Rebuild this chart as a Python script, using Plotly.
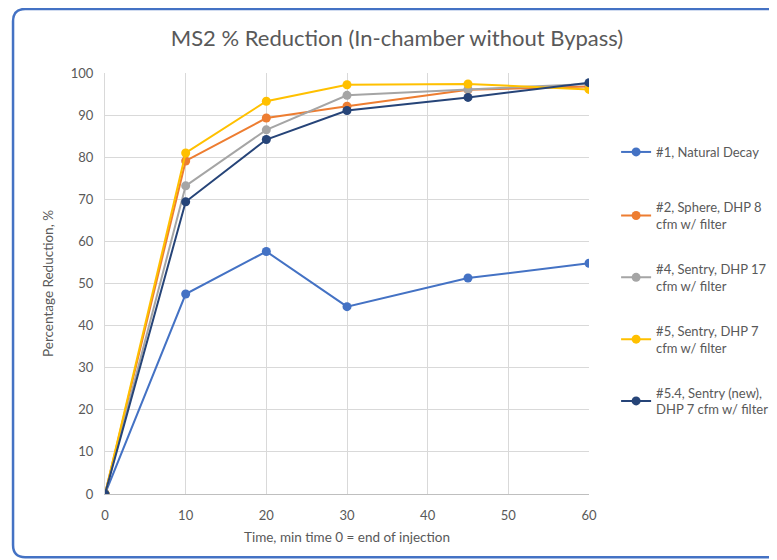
import plotly.graph_objects as go

# time points (min)
time_min = [0, 10, 20, 30, 45, 60]

natural_decay = [0, 47.5, 57.6, 44.5, 51.3, 54.8]
sphere_dhp8 = [0, 79.1, 89.3, 92.1, 96.0, 96.8]
sentry_dhp17 = [0, 73.2, 86.5, 94.7, 96.1, 97.4]
sentry_dhp7 = [0, 81.0, 93.3, 97.2, 97.4, 96.1]
sentry_new_dhp7 = [0, 69.4, 84.2, 91.1, 94.2, 97.7]

series_names = [
    "#1, Natural Decay",
    "#2, Sphere, DHP 8<br>cfm w/ filter",
    "#4, Sentry, DHP 17<br>cfm w/ filter",
    "#5, Sentry, DHP 7<br>cfm w/ filter",
    "#5.4, Sentry (new),<br>DHP 7 cfm w/ filter",
]
series_values = [natural_decay, sphere_dhp8, sentry_dhp17, sentry_dhp7, sentry_new_dhp7]
series_colors = ["#4472C4", "#ED7D31", "#A5A5A5", "#FFC000", "#264478"]

FONT = "Lato, 'Open Sans', sans-serif"
GREY_TXT = "#595959"

fig = go.Figure()
for i, (name, vals, col) in enumerate(zip(series_names, series_values, series_colors)):
    fig.add_trace(go.Scatter(
        x=time_min, y=vals, name=name, mode="lines+markers",
        line=dict(color=col, width=2),
        marker=dict(color=col, size=9),
        legendgroup=f"g{i}", showlegend=True,
        legend="legend" if i == 0 else "legend2",
    ))

leg_common = dict(xanchor="left", yanchor="top", font=dict(size=13, color=GREY_TXT),
                  bgcolor="rgba(0,0,0,0)", tracegroupgap=25)

# page body has an 8px margin, so the figure is sized to fit the window without scrollbars
W, H = 769, 552
fig.update_layout(
    width=W, height=H, showlegend=True,
    paper_bgcolor="white", plot_bgcolor="white",
    margin=dict(l=97, r=188, t=65, b=66, autoexpand=False),
    font=dict(family=FONT, color=GREY_TXT, size=13),
    title=dict(text="MS2 % Reduction (In-chamber without Bypass)",
               x=389 / W, xanchor="center", y=1 - 30 / H, yanchor="middle",
               font=dict(size=22, color=GREY_TXT)),
    xaxis=dict(range=[0, 60], tickvals=[0, 10, 20, 30, 40, 50, 60],
               showgrid=True, gridcolor="#D9D9D9", gridwidth=1,
               zeroline=False, showline=True, linecolor="#BFBFBF", linewidth=1,
               ticks="outside", ticklen=9, tickcolor="rgba(0,0,0,0)",
               title=dict(text="Time, min time 0 = end of injection",
                          font=dict(size=13.5, color=GREY_TXT), standoff=10),
               tickfont=dict(size=13, color=GREY_TXT)),
    yaxis=dict(range=[0, 100], dtick=10,
               showgrid=True, gridcolor="#D9D9D9", gridwidth=1,
               zeroline=False, showline=True, linecolor="#D9D9D9", linewidth=1,
               ticks="outside", ticklen=8, tickcolor="rgba(0,0,0,0)",
               title=dict(text="Percentage Reduction, %",
                          font=dict(size=13.5, color=GREY_TXT), standoff=14),
               tickfont=dict(size=13, color=GREY_TXT)),
    legend=dict(x=1.056, y=0.848, **leg_common),
    legend2=dict(x=1.056, y=0.717, **leg_common),
)

# rounded chart border (only left/top/bottom visible in the crop)
fig.add_shape(type="path", xref="paper", yref="paper",
              path=("M 1.6,-0.150 L -0.165,-0.150 Q -0.190,-0.150 -0.190,-0.121 "
                    "L -0.190,1.123 Q -0.190,1.152 -0.165,1.152 L 1.6,1.152"),
              line=dict(color="#4472C4", width=2.5), layer="below")

fig.write_html("out.html")
